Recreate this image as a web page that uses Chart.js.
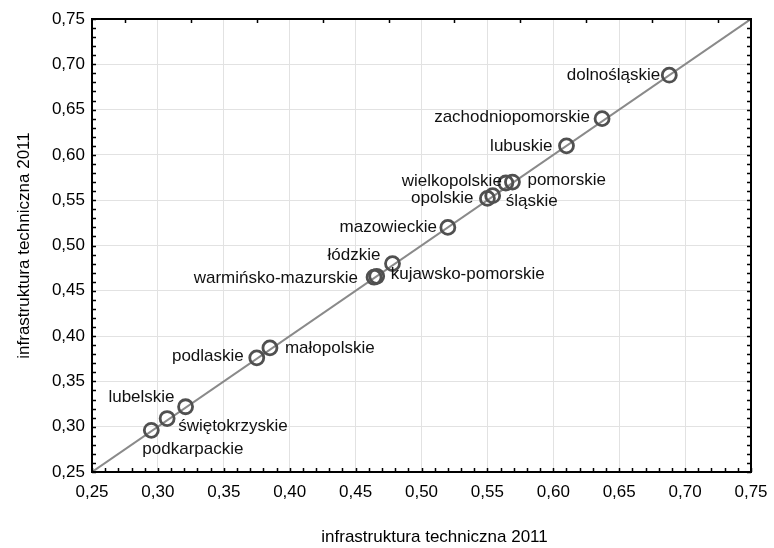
<!DOCTYPE html>
<html>
<head>
<meta charset="utf-8">
<script src="https://cdn.jsdelivr.net/npm/chart.js@4/dist/chart.umd.min.js"></script>
<style>
  html, body { margin: 0; padding: 0; background: #fff; }
</style>
</head>
<body>
<canvas id="myChart" width="774" height="548"></canvas>
<script>
// Dane ------------------------------------------------------------------
const regions = ['dolnośląskie', 'zachodniopomorskie', 'lubuskie', 'pomorskie', 'wielkopolskie',
  'śląskie', 'opolskie', 'mazowieckie', 'łódzkie', 'kujawsko-pomorskie', 'warmińsko-mazurskie',
  'małopolskie', 'podlaskie', 'lubelskie', 'świętokrzyskie', 'podkarpackie'];
const xValues = [0.688, 0.637, 0.610, 0.569, 0.564, 0.554, 0.550, 0.520, 0.478, 0.466, 0.464,
  0.385, 0.375, 0.321, 0.307, 0.295];
const yValues = [0.688, 0.640, 0.610, 0.570, 0.569, 0.555, 0.552, 0.520, 0.480, 0.466, 0.465,
  0.387, 0.376, 0.322, 0.309, 0.296];
const tickValues = [0.25, 0.30, 0.35, 0.40, 0.45, 0.50, 0.55, 0.60, 0.65, 0.70, 0.75];
const diagonal = [0.25, 0.75]; // linia y = x
const axisTitle = 'infrastruktura techniczna 2011';

// gdzie stoi podpis wzgledem punktu: [dx, dy, wyrownanie]
const labelPlace = {
  'dolnośląskie': [-9, 0, 'right'],
  'zachodniopomorskie': [-12, -1, 'right'],
  'lubuskie': [-14, 0, 'right'],
  'pomorskie': [15, -2, 'left'],
  'wielkopolskie': [-4, -2, 'right'],
  'śląskie': [13, 6, 'left'],
  'opolskie': [-14, 0, 'right'],
  'mazowieckie': [-11, 0, 'right'],
  'łódzkie': [-12, -8, 'right'],
  'kujawsko-pomorskie': [14, -2, 'left'],
  'warmińsko-mazurskie': [-16, 1, 'right'],
  'małopolskie': [15, 0, 'left'],
  'podlaskie': [-13, -2, 'right'],
  'lubelskie': [-11, -9, 'right'],
  'świętokrzyskie': [11, 8, 'left'],
  'podkarpackie': [-9, 19, 'left']
};
//------------------------------------------------------------------------

const FONT = 'Liberation Sans, Arial, sans-serif';
const fmt = v => v.toFixed(2).replace('.', ',');

// podpisy punktow
const pointLabels = {
  id: 'pointLabels',
  afterDatasetsDraw(chart) {
    const ctx = chart.ctx;
    const meta = chart.getDatasetMeta(0);
    ctx.save();
    ctx.font = '17px ' + FONT;
    ctx.fillStyle = '#111';
    ctx.textBaseline = 'middle';
    meta.data.forEach((pt, i) => {
      const p = labelPlace[regions[i]] || [10, 0, 'left'];
      ctx.textAlign = p[2];
      ctx.fillText(regions[i], pt.x + p[0], pt.y + p[1]);
    });
    ctx.restore();
  }
};

// ramka + drobne znaczniki jak w Statistice, tytul osi X (troche przesuniety w prawo)
const frame = {
  id: 'frame',
  afterDraw(chart) {
    const { ctx, chartArea: a, scales: { x, y } } = chart;
    ctx.save();
    ctx.strokeStyle = '#000';
    ctx.lineWidth = 1.5;
    ctx.beginPath();
    for (let k = 25; k <= 75; k++) {
      const v = k / 100;
      const px = Math.round(x.getPixelForValue(v)) + 0.5;
      const py = Math.round(y.getPixelForValue(v)) + 0.5;
      ctx.moveTo(a.left, py); ctx.lineTo(a.left + 4, py);
      ctx.moveTo(a.right, py); ctx.lineTo(a.right - 4, py);
      ctx.moveTo(px, a.bottom); ctx.lineTo(px, a.bottom - 4);
    }
    for (let k = 0; k < 10; k++) {
      const px = Math.round(x.getPixelForValue(0.275 + k * 0.05)) + 0.5;
      ctx.moveTo(px, a.top); ctx.lineTo(px, a.top + 4);
    }
    ctx.stroke();
    ctx.lineWidth = 2;
    ctx.strokeRect(a.left, a.top, a.right - a.left, a.bottom - a.top);

    ctx.font = '17px ' + FONT;
    ctx.fillStyle = '#000';
    ctx.textAlign = 'center';
    ctx.textBaseline = 'middle';
    ctx.fillText(axisTitle, (a.left + a.right) / 2 + 13, 537);
    ctx.restore();
  }
};

const axis = (w, h) => ({
  type: 'linear',
  min: 0.25,
  max: 0.75,
  afterBuildTicks: s => { s.ticks = tickValues.map(v => ({ value: v })); },
  afterFit: s => {
    if (w) s.width = w;
    if (h) s.height = h;
    s.paddingLeft = 0; s.paddingRight = 0;
    s.paddingTop = 0; s.paddingBottom = 0;
  },
  grid: { color: '#e2e2e2', lineWidth: 1, drawTicks: false },
  border: { display: false },
  ticks: {
    callback: v => fmt(v),
    font: { family: FONT, size: 17 },
    color: '#000',
    padding: w ? 7 : 10
  },
  title: {
    display: !!w,
    text: axisTitle,
    font: { family: FONT, size: 17 },
    color: '#000',
    padding: { top: 14, bottom: 0 }
  }
});

const ctx = document.getElementById('myChart').getContext('2d');
const myChart = new Chart(ctx, {
  type: 'scatter',
  data: {
    datasets: [{
      data: xValues.map((v, i) => ({ x: v, y: yValues[i] })),
      pointRadius: 7,
      pointHoverRadius: 7,
      borderWidth: 2.8,
      borderColor: '#505050',
      backgroundColor: 'rgba(0,0,0,0)'
    }, {
      data: diagonal.map(v => ({ x: v, y: v })),
      showLine: true,
      pointRadius: 0,
      borderColor: '#8a8a8a',
      borderWidth: 2
    }]
  },
  options: {
    responsive: false,
    devicePixelRatio: 1,
    animation: false,
    layout: { padding: { top: 19, right: 23, left: 0, bottom: 0 } },
    scales: {
      x: axis(0, 76),
      y: axis(92, 0)
    },
    plugins: {
      legend: { display: false },
      tooltip: { enabled: false }
    }
  },
  plugins: [pointLabels, frame]
});
</script>
</body>
</html>
